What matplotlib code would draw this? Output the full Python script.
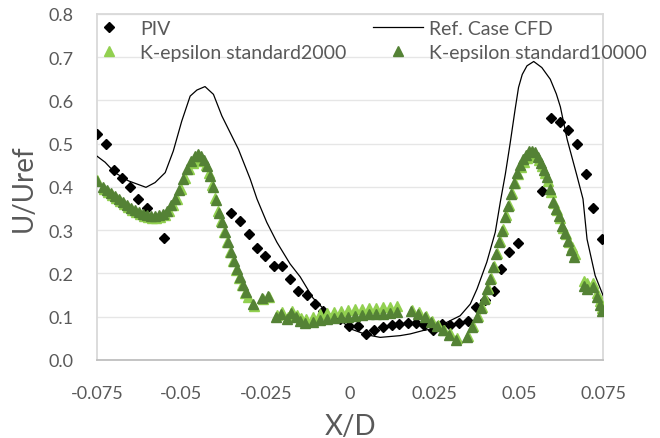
import numpy as np
import matplotlib.pyplot as plt

# PIV measurements
piv_x = [-0.0751, -0.0724, -0.0700, -0.0676, -0.0652, -0.0628, -0.0603, -0.0551,
         -0.0353, -0.0326, -0.0301, -0.0277, -0.0252, -0.0227, -0.0202, -0.0178,
         -0.0153, -0.0128, -0.0104, -0.0079, -0.0030, -0.0003, 0.0022, 0.0048,
         0.0072, 0.0097, 0.0124, 0.0146, 0.0171, 0.0196, 0.0220, 0.0245,
         0.0272, 0.0297, 0.0323, 0.0348, 0.0374, 0.0400, 0.0425, 0.0448,
         0.0472, 0.0497, 0.0568, 0.0596, 0.0621, 0.0647, 0.0672, 0.0698,
         0.0721, 0.0747]
piv_y = [0.522, 0.500, 0.440, 0.420, 0.399, 0.372, 0.352, 0.281,
         0.339, 0.320, 0.290, 0.259, 0.240, 0.218, 0.218, 0.188,
         0.160, 0.151, 0.129, 0.112, 0.095, 0.079, 0.079, 0.060,
         0.070, 0.076, 0.080, 0.082, 0.085, 0.085, 0.080, 0.070,
         0.083, 0.081, 0.085, 0.090, 0.122, 0.139, 0.160, 0.210,
         0.250, 0.270, 0.390, 0.560, 0.551, 0.531, 0.499, 0.430,
         0.351, 0.279]

# reference CFD case
ref_x = [-0.0750, -0.0726, -0.0697, -0.0657, -0.0605, -0.0578, -0.0548, -0.0524,
         -0.0499, -0.0474, -0.0454, -0.0430, -0.0405, -0.0380, -0.0331, -0.0296,
         -0.0276, -0.0247, -0.0217, -0.0178, -0.0148, -0.0110, -0.0069, -0.0025,
         0.0000, 0.0049, 0.0089, 0.0148, 0.0178, 0.0217, 0.0247, 0.0287,
         0.0326, 0.0356, 0.0376, 0.0405, 0.0430, 0.0445, 0.0460, 0.0474,
         0.0489, 0.0499, 0.0510, 0.0524, 0.0544, 0.0568, 0.0593, 0.0611,
         0.0623, 0.0643, 0.0672, 0.0690, 0.0702, 0.0726, 0.0750]
ref_y = [0.471, 0.457, 0.433, 0.414, 0.399, 0.410, 0.433, 0.483,
         0.552, 0.610, 0.624, 0.632, 0.614, 0.564, 0.487, 0.418,
         0.372, 0.318, 0.272, 0.222, 0.192, 0.143, 0.110, 0.090,
         0.072, 0.058, 0.052, 0.056, 0.060, 0.068, 0.072, 0.087,
         0.102, 0.129, 0.164, 0.226, 0.295, 0.365, 0.430, 0.500,
         0.580, 0.630, 0.660, 0.680, 0.690, 0.676, 0.649, 0.615,
         0.585, 0.510, 0.426, 0.372, 0.279, 0.195, 0.148]

# K-epsilon standard, 2000
ke2k_x = [-0.0750, -0.0730, -0.0718, -0.0706, -0.0694, -0.0682, -0.0670, -0.0658,
          -0.0646, -0.0634, -0.0622, -0.0610, -0.0598, -0.0586, -0.0574, -0.0562,
          -0.0550, -0.0538, -0.0526, -0.0514, -0.0502, -0.0490, -0.0478, -0.0466,
          -0.0454, -0.0446, -0.0437, -0.0428, -0.0419, -0.0410, -0.0401, -0.0392,
          -0.0383, -0.0374, -0.0365, -0.0356, -0.0347, -0.0338, -0.0329, -0.0320,
          -0.0311, -0.0302, -0.0286, -0.0259, -0.0241, -0.0217, -0.0203, -0.0185,
          -0.0173, -0.0158, -0.0146, -0.0131, -0.0110, -0.0089, -0.0068, -0.0047,
          -0.0027, -0.0006, 0.0015, 0.0036, 0.0056, 0.0077, 0.0098, 0.0119,
          0.0139, 0.0183, 0.0204, 0.0224, 0.0242, 0.0260, 0.0278, 0.0296,
          0.0316, 0.0349, 0.0364, 0.0379, 0.0390, 0.0399, 0.0408, 0.0417,
          0.0426, 0.0435, 0.0444, 0.0453, 0.0462, 0.0471, 0.0479, 0.0488,
          0.0497, 0.0506, 0.0515, 0.0524, 0.0533, 0.0542, 0.0551, 0.0559,
          0.0568, 0.0577, 0.0586, 0.0595, 0.0604, 0.0613, 0.0622, 0.0631,
          0.0639, 0.0648, 0.0657, 0.0666, 0.0694, 0.0703, 0.0720, 0.0732,
          0.0741, 0.0747]
ke2k_y = [0.415, 0.395, 0.388, 0.381, 0.374, 0.367, 0.360, 0.353,
          0.347, 0.342, 0.337, 0.333, 0.330, 0.329, 0.329, 0.331,
          0.336, 0.344, 0.357, 0.373, 0.395, 0.420, 0.441, 0.455,
          0.463, 0.465, 0.460, 0.450, 0.432, 0.405, 0.375, 0.345,
          0.320, 0.296, 0.272, 0.250, 0.228, 0.208, 0.190, 0.172,
          0.155, 0.145, 0.124, 0.140, 0.146, 0.103, 0.110, 0.100,
          0.112, 0.104, 0.096, 0.095, 0.100, 0.105, 0.108, 0.111,
          0.113, 0.115, 0.117, 0.118, 0.120, 0.121, 0.122, 0.123,
          0.125, 0.116, 0.110, 0.101, 0.091, 0.081, 0.070, 0.062,
          0.050, 0.055, 0.078, 0.102, 0.122, 0.144, 0.167, 0.190,
          0.218, 0.248, 0.276, 0.302, 0.334, 0.359, 0.386, 0.410,
          0.430, 0.446, 0.458, 0.467, 0.473, 0.475, 0.471, 0.462,
          0.449, 0.433, 0.413, 0.388, 0.362, 0.346, 0.328, 0.306,
          0.290, 0.273, 0.262, 0.245, 0.182, 0.178, 0.178, 0.155,
          0.135, 0.120]

# K-epsilon standard, 10000
ke10k_x = [-0.0750, -0.0732, -0.0720, -0.0708, -0.0697, -0.0685, -0.0673, -0.0661,
           -0.0649, -0.0637, -0.0625, -0.0614, -0.0602, -0.0590, -0.0578, -0.0566,
           -0.0554, -0.0542, -0.0531, -0.0519, -0.0507, -0.0495, -0.0483, -0.0471,
           -0.0459, -0.0451, -0.0442, -0.0433, -0.0424, -0.0415, -0.0406, -0.0397,
           -0.0388, -0.0379, -0.0371, -0.0362, -0.0353, -0.0344, -0.0335, -0.0326,
           -0.0317, -0.0308, -0.0288, -0.0261, -0.0243, -0.0219, -0.0205, -0.0187,
           -0.0175, -0.0160, -0.0148, -0.0133, -0.0110, -0.0089, -0.0068, -0.0047,
           -0.0027, -0.0006, 0.0015, 0.0036, 0.0056, 0.0077, 0.0098, 0.0119,
           0.0139, 0.0181, 0.0202, 0.0222, 0.0240, 0.0258, 0.0276, 0.0294,
           0.0314, 0.0347, 0.0362, 0.0377, 0.0388, 0.0397, 0.0406, 0.0415,
           0.0424, 0.0433, 0.0442, 0.0451, 0.0460, 0.0469, 0.0477, 0.0486,
           0.0495, 0.0504, 0.0513, 0.0522, 0.0531, 0.0540, 0.0549, 0.0557,
           0.0566, 0.0575, 0.0584, 0.0593, 0.0602, 0.0611, 0.0620, 0.0629,
           0.0637, 0.0646, 0.0655, 0.0664, 0.0694, 0.0703, 0.0720, 0.0732,
           0.0741, 0.0747]
ke10k_y = [0.413, 0.400, 0.392, 0.385, 0.378, 0.371, 0.364, 0.357,
           0.351, 0.346, 0.341, 0.337, 0.334, 0.332, 0.332, 0.334,
           0.338, 0.345, 0.357, 0.372, 0.392, 0.418, 0.442, 0.460,
           0.471, 0.476, 0.472, 0.462, 0.448, 0.425, 0.400, 0.370,
           0.340, 0.318, 0.295, 0.272, 0.250, 0.228, 0.210, 0.192,
           0.174, 0.158, 0.130, 0.143, 0.148, 0.100, 0.105, 0.095,
           0.108, 0.098, 0.090, 0.085, 0.088, 0.092, 0.095, 0.097,
           0.099, 0.100, 0.102, 0.103, 0.105, 0.106, 0.107, 0.108,
           0.110, 0.112, 0.106, 0.098, 0.088, 0.079, 0.068, 0.058,
           0.046, 0.052, 0.075, 0.099, 0.120, 0.141, 0.164, 0.187,
           0.214, 0.245, 0.272, 0.298, 0.330, 0.355, 0.383, 0.410,
           0.433, 0.450, 0.464, 0.474, 0.482, 0.484, 0.480, 0.470,
           0.455, 0.440, 0.422, 0.395, 0.365, 0.350, 0.332, 0.310,
           0.293, 0.275, 0.255, 0.238, 0.170, 0.165, 0.168, 0.145,
           0.128, 0.114]

x_ticks = [-0.075, -0.05, -0.025, 0, 0.025, 0.05, 0.075]
x_ticklabels = ["-0.075", "-0.05", "-0.025", "0", "0.025", "0.05", "0.075"]

plt.rcParams['font.family'] = ['Lato', 'DejaVu Sans']
grey = '#595959'

fig = plt.figure(figsize=(6.6, 4.39), dpi=100)
ax = fig.add_axes([0.147, 0.178, 0.767, 0.788])

h_piv, = ax.plot(piv_x, piv_y, linestyle='none', marker='D', ms=4.8, color='black',
                 label='PIV', zorder=3)
h_ref, = ax.plot(ref_x, ref_y, color='black', lw=0.9, label='Ref. Case CFD', zorder=3)
h_2k, = ax.plot(ke2k_x, ke2k_y, linestyle='none', marker='^', ms=7, color='#92D050',
                label='K-epsilon standard2000', zorder=4)
h_10k, = ax.plot(ke10k_x, ke10k_y, linestyle='none', marker='^', ms=7, color='#548235',
                 label='K-epsilon standard10000', zorder=5)

ax.set_xlim(-0.075, 0.075)
ax.set_ylim(0, 0.8)
ax.set_xticks(x_ticks)
ax.set_xticklabels(x_ticklabels)
ax.set_yticks(np.arange(0, 0.81, 0.1))
ax.set_yticklabels(["%.1f" % v for v in np.arange(0, 0.81, 0.1)])
ax.tick_params(length=0, labelsize=13, labelcolor=grey)
ax.tick_params(axis='y', pad=17)
ax.tick_params(axis='x', pad=18)
ax.grid(axis='y', color='#E6E6E6', lw=1)
ax.set_axisbelow(True)
for s in ax.spines.values():
    s.set_color('#D9D9D9')
    s.set_linewidth(1.3)
ax.spines['bottom'].set_color('#BFBFBF')

ax.set_xlabel("X/D", fontsize=20, color=grey, labelpad=9)
ax.set_ylabel("U/Uref", fontsize=20, color=grey, labelpad=8)

# matplotlib fills legend columns first
ax.legend([h_piv, h_2k, h_ref, h_10k],
          ['PIV', 'K-epsilon standard2000', 'Ref. Case CFD', 'K-epsilon standard10000'],
          ncol=2, loc='upper left', bbox_to_anchor=(0.1265, 0.953), bbox_transform=fig.transFigure,
          frameon=False, fontsize=14, handlelength=2.6, handletextpad=0.3,
          columnspacing=1.35, labelspacing=0.39, borderpad=0, borderaxespad=0,
          labelcolor=grey)

plt.savefig("out.png", dpi=100)
